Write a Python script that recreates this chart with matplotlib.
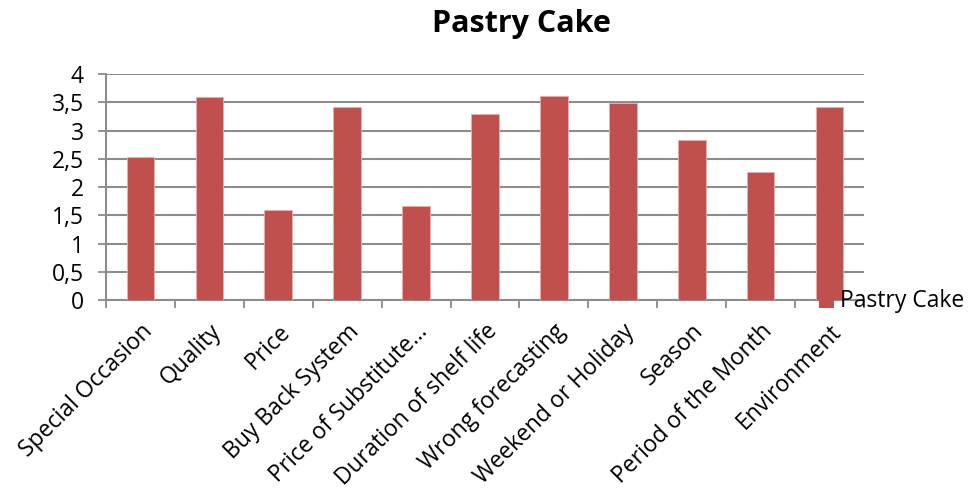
import matplotlib
matplotlib.use("Agg")
import matplotlib.pyplot as plt
from matplotlib.patches import Rectangle
from matplotlib.transforms import ScaledTranslation

categories = ["Special Occasion", "Quality", "Price", "Buy Back System",
              "Price of Substitute…", "Duration of shelf life",
              "Wrong forecasting", "Weekend or Holiday", "Season",
              "Period of the Month", "Environment"]
values = [2.53, 3.59, 1.59, 3.41, 1.66, 3.30, 3.61, 3.48, 2.83, 2.27, 3.41]
yticks = [0, 0.5, 1, 1.5, 2, 2.5, 3, 3.5, 4]
ytick_labels = ["0", "0,5", "1", "1,5", "2", "2,5", "3", "3,5", "4"]
series_name = "Pastry Cake"

plt.rcParams["font.family"] = ["Open Sans", "DejaVu Sans"]

bar_color = "#C0504D"
grid_color = "#8C8C8C"
fs = 16.5

fig = plt.figure(figsize=(9.70, 4.91), dpi=100)
ax = fig.add_axes([106 / 970, 1 - 300 / 491, 758 / 970, 226 / 491])

x = list(range(len(categories)))
bars = ax.bar(x, values, width=0.40, color=bar_color, edgecolor="#E6B0AE",
              linewidth=0.6, zorder=3)

ax.set_xlim(-0.5, len(categories) - 0.5)
ax.set_ylim(0, 4)
ax.set_yticks(yticks)
ax.set_yticklabels(ytick_labels, fontsize=fs)
ax.yaxis.grid(True, color=grid_color, linewidth=1.5, zorder=0)
ax.set_axisbelow(True)

ax.set_xticks(x)
ax.set_xticklabels(categories, rotation=45, ha="right", va="top",
                   rotation_mode="anchor", fontsize=fs)
shift = ScaledTranslation(5 / 100, -4 / 100, fig.dpi_scale_trans)
for lbl in ax.get_xticklabels():
    lbl.set_transform(lbl.get_transform() + shift)
ax.set_xticks([i - 0.5 for i in range(len(categories) + 1)], minor=True)
ax.tick_params(axis="x", which="major", length=0, pad=14)
ax.tick_params(axis="x", which="minor", length=6, color=grid_color, width=1.3)
ax.tick_params(axis="y", length=6, color=grid_color, width=1.3, pad=10)

for side in ["top", "right"]:
    ax.spines[side].set_visible(False)
ax.spines["left"].set_color(grid_color)
ax.spines["left"].set_linewidth(1.5)
ax.spines["bottom"].set_color(grid_color)
ax.spines["bottom"].set_linewidth(1.5)

fig.text(521 / 970, 1 - 24 / 491, "Pastry Cake", ha="center", va="center",
         fontsize=22, fontweight="bold")

# legend key and label
fig.patches.append(Rectangle((819 / 970, 1 - 308 / 491), 15 / 970, 14 / 491,
                             transform=fig.transFigure, facecolor=bar_color,
                             edgecolor="none", zorder=5))
fig.text(840 / 970, 1 - 307 / 491, series_name, ha="left", va="baseline",
         fontsize=fs, zorder=6)

fig.savefig("out.png", dpi=100)
